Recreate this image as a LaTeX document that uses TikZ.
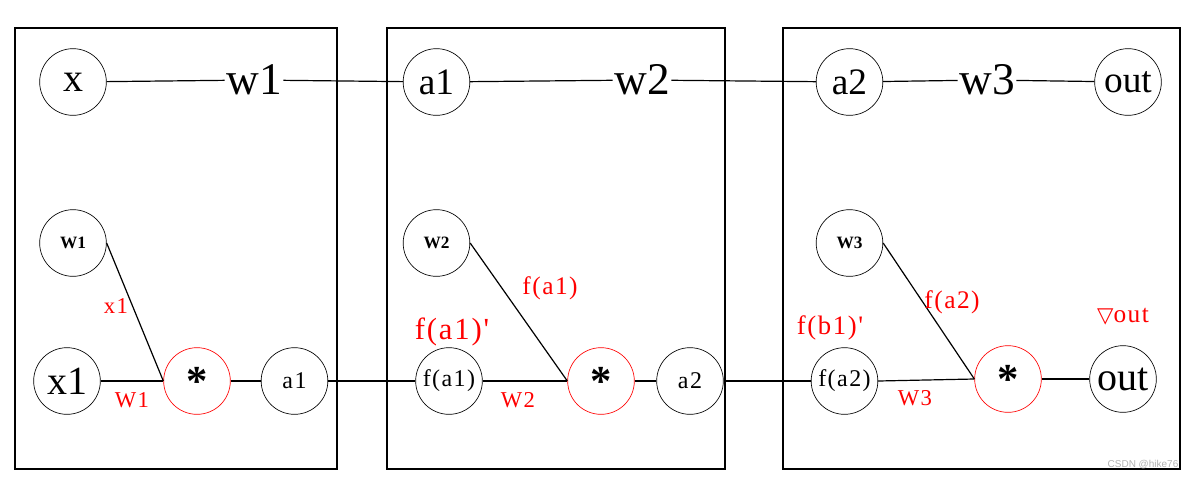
\documentclass[tikz,border=0pt]{standalone}
\usepackage{fontspec}
\setmainfont{Liberation Serif}
\newfontfamily\widefont[LetterSpace=6]{Liberation Serif}
\newfontfamily\symfont{DejaVu Sans}
\newfontfamily\wmfont{Liberation Sans}
\newcommand\myfs[1]{\fontsize{#1}{#1}\selectfont}
\begin{document}
\begin{tikzpicture}[x=0.75pt,y=-0.75pt,
  circ/.style={circle,draw,line width=0.5pt,minimum size=50pt,inner sep=0pt},
  mult/.style={circ,draw=red,font=\bfseries\myfs{32pt}},
  box/.style={draw,line width=1.1pt},
  conn/.style={line width=0.9pt},
  wlbl/.style={inner sep=1pt,font=\myfs{34pt}},
  redlbl/.style={text=red,inner sep=0pt}]
\useasboundingbox (0,0) rectangle (1199,479);
% boxes
\draw[box] (15,28) rectangle (337,469);
\draw[box] (387,28) rectangle (725,469);
\draw[box] (783,28) rectangle (1180,469);
% top row
\node[circ,font=\myfs{30pt}] (x) at (73,82) {x};
\node[wlbl] (w1) at (254,80) {w1};
\node[circ,font=\myfs{28pt}] (a1t) at (436.5,82) {a1};
\node[wlbl] (w2) at (642,80) {w2};
\node[circ,font=\myfs{28pt}] (a2t) at (849.5,82) {a2};
\node[wlbl] (w3) at (987,80) {w3};
\node[circ,font=\myfs{28pt}] (outt) at (1128,82) {out};
\draw[conn] (x) -- (w1) -- (a1t) -- (w2) -- (a2t) -- (w3) -- (outt);
% bottom row box 1
\node[circ,font=\bfseries\myfs{13pt}] (W1) at (73,243) {W1};
\node[circ,font=\myfs{30pt}] (x1) at (67,381) {x1};
\node[mult] (m1) at (197,381) {\raisebox{-6pt}{*}};
\node[circ,font=\widefont\myfs{18pt}] (a1b) at (294.5,381) {a1};
% box 2
\node[circ,font=\bfseries\myfs{13pt}] (W2) at (436.5,243) {W2};
\node[circ,font=\widefont\myfs{18pt}] (fa1) at (449,381) {f(a1)};
\node[mult] (m2) at (601,381) {\raisebox{-6pt}{*}};
\node[circ,font=\widefont\myfs{18pt}] (a2b) at (690,381) {a2};
% box 3
\node[circ,font=\bfseries\myfs{13pt}] (W3) at (849.5,243) {W3};
\node[circ,font=\widefont\myfs{18pt}] (fa2) at (844.5,381) {f(a2)};
\node[mult] (m3) at (1008,379) {\raisebox{-6pt}{*}};
\node[circ,font=\myfs{30pt}] (outb) at (1123,379) {out};
% connectors
\draw[conn] (x1) -- (m1);
\draw[conn] (W1.east) -- (m1.west);
\draw[conn] (m1) -- (a1b) -- (fa1);
\draw[conn] (fa1) -- (m2.west);
\draw[conn] (W2.east) -- (m2.west);
\draw[conn] (m2) -- (a2b) -- (fa2);
\draw[conn] (fa2.east) -- (m3.west);
\draw[conn] (W3.east) -- (m3.west);
\draw[conn] (m3) -- (outb);
% red labels
\node[redlbl,font=\widefont\myfs{17pt}] (lx1) at (116,306) {x1};
\node[redlbl,font=\widefont\myfs{17pt}] (lW1) at (132,400) {W1};
\node[redlbl,font=\widefont\myfs{19pt}] (lfa1) at (550,288) {f(a1)};
\node[redlbl,font=\widefont\myfs{23pt}] (lfa1p) at (452,332) {f(a1)'};
\node[redlbl,font=\widefont\myfs{17pt}] (lW2) at (518,400) {W2};
\node[redlbl,font=\widefont\myfs{19pt}] (lfa2) at (952,302) {f(a2)};
\node[redlbl,font=\widefont\myfs{20pt}] (lfb1p) at (830,328) {f(b1)'};
\node[redlbl,font=\widefont\myfs{17pt}] (lW3) at (915,398) {W3};
\node[redlbl,font=\widefont\myfs{19pt}] (lgout) at (1123,317) {{\symfont\myfs{16pt}▽}out};
% watermark
\node[text=black!30,font=\wmfont\myfs{7.5pt},inner sep=0pt] (wm) at (1143,465) {CSDN @hike76};
\end{tikzpicture}
\end{document}
